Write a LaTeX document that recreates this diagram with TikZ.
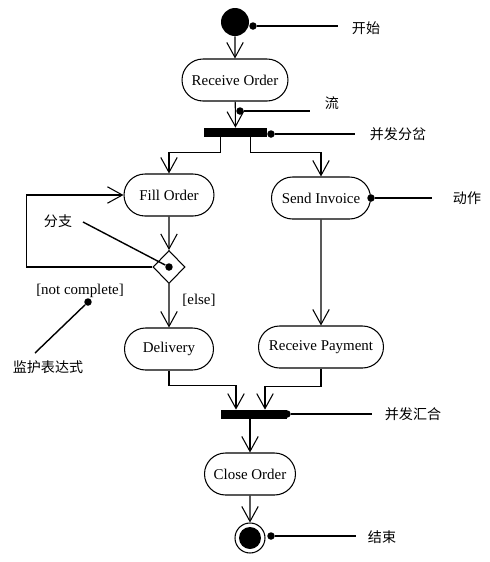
\documentclass[tikz,border=0pt]{standalone}
\usepackage{fontspec}
\setmainfont{Liberation Serif}
\newfontfamily\cjk{Noto Sans CJK SC}
\usetikzlibrary{positioning, calc, arrows.meta, shapes.misc, shapes.geometric}

\tikzset{
  act/.style={draw, rounded rectangle, minimum height=0.84cm, inner sep=0pt,
    line width=0.6pt, font=\fontsize{8.5}{10}\selectfont},
  flow/.style={-{Straight Barb[length=3mm,width=3.3mm]}, line width=0.6pt},
  bar/.style={rectangle, fill=black, inner sep=0pt, minimum height=0.18cm},
  pin/.style={circle, fill=black, inner sep=0pt, minimum size=0.15cm},
  note/.style={line width=0.8pt},
  cn/.style={font=\cjk\fontsize{8}{10}\selectfont},
  guard/.style={font=\fontsize{8.5}{10}\selectfont}
}

\begin{document}
\begin{tikzpicture}[x=0.02cm, y=-0.02cm]
  \useasboundingbox (0,0) rectangle (490,562);

  % initial and final states
  \node[circle, fill=black, minimum size=0.56cm, inner sep=0pt] (start) at (235,22) {};
  \node[circle, draw, line width=0.6pt, minimum size=0.6cm, inner sep=0pt] (stop) at (250,538) {};
  \fill (stop.center) circle (0.22cm);

  % actions
  \node[act, minimum width=2.12cm] (recv) at (235,80) {Receive Order};
  \node[act, minimum width=1.8cm]  (fill) at (169,195) {Fill Order};
  \node[act, minimum width=1.98cm] (send) at (321,198) {Send Invoice};
  \node[act, minimum width=1.78cm] (deli) at (169,349) {Delivery};
  \node[act, minimum width=2.5cm]  (pay)  at (321,347) {Receive Payment};
  \node[act, minimum width=1.82cm] (close) at (250,474) {Close Order};

  % fork, join and branch
  \node[bar, minimum width=1.26cm] (fork) at (235.5,132.5) {};
  \node[bar, minimum width=1.32cm] (join) at (254,414.5) {};
  \node[draw, diamond, line width=0.6pt, minimum width=0.64cm, minimum height=0.66cm,
    inner sep=0pt] (dec) at (169,267) {};

  % flows
  \draw[flow] (start) -- (recv);
  \draw[flow] (recv) -- (fork);
  \draw[flow] ($(fork.south)+(-15,0)$) -- ++(0,15) -| (fill.north);
  \draw[flow] ($(fork.south)+(15,0)$) -- ++(0,15) -| (send.north);
  \draw[flow] (fill) -- (dec);
  \draw[flow] (dec.west) -- ++(-126,0) |- (fill.west);
  \draw[flow] (dec) -- (deli);
  \draw[flow] (send) -- (pay);
  \draw[flow] (deli.south) -- ++(0,15) -| ($(join.north)+(-18,0)$);
  \draw[flow] (pay.south) -- ++(0,18) -| ($(join.north)+(11,0)$);
  \draw[flow] ($(join.south)+(-4,0)$) -- (close.north);
  \draw[flow] (close) -- (stop);

  % guards
  \node[guard] (notc) at (80,291) {[not complete]};
  \node[guard] (els)  at (199,300) {[else]};

  % notes
  \node[pin] (p1) at (253,26) {};
  \coordinate (e1) at (338,26);
  \node[cn] (t1) at (366,28) {开始};
  \draw[note] (p1) -- (e1);

  \node[pin] (p2) at (240,111) {};
  \coordinate (e2) at (310,111);
  \node[cn] (t2) at (332,103) {流};
  \draw[note] (p2) -- (e2);

  \node[pin] (p3) at (271,134) {};
  \coordinate (e3) at (355,134);
  \node[cn] (t3) at (398,134) {并发分岔};
  \draw[note] (p3) -- (e3);

  \node[pin] (p4) at (371,198) {};
  \coordinate (e4) at (432,198);
  \node[cn] (t4) at (467,198) {动作};
  \draw[note] (p4) -- (e4);

  \node[pin] (p5) at (169,267) {};
  \coordinate (e5) at (83,222);
  \node[cn] (t5) at (58,221) {分支};
  \draw[note] (p5) -- (e5);

  \node[pin] (p6) at (88,302) {};
  \coordinate (e6) at (35,353);
  \node[cn] (t6) at (48,367) {监护表达式};
  \draw[note] (p6) -- (e6);

  \node[pin] (p7) at (287,414) {};
  \coordinate (e7) at (372,414);
  \node[cn] (t7) at (413,414) {并发汇合};
  \draw[note] (p7) -- (e7);

  \node[pin] (p8) at (271,536) {};
  \coordinate (e8) at (356,536);
  \node[cn] (t8) at (382,537) {结束};
  \draw[note] (p8) -- (e8);
\end{tikzpicture}
\end{document}
